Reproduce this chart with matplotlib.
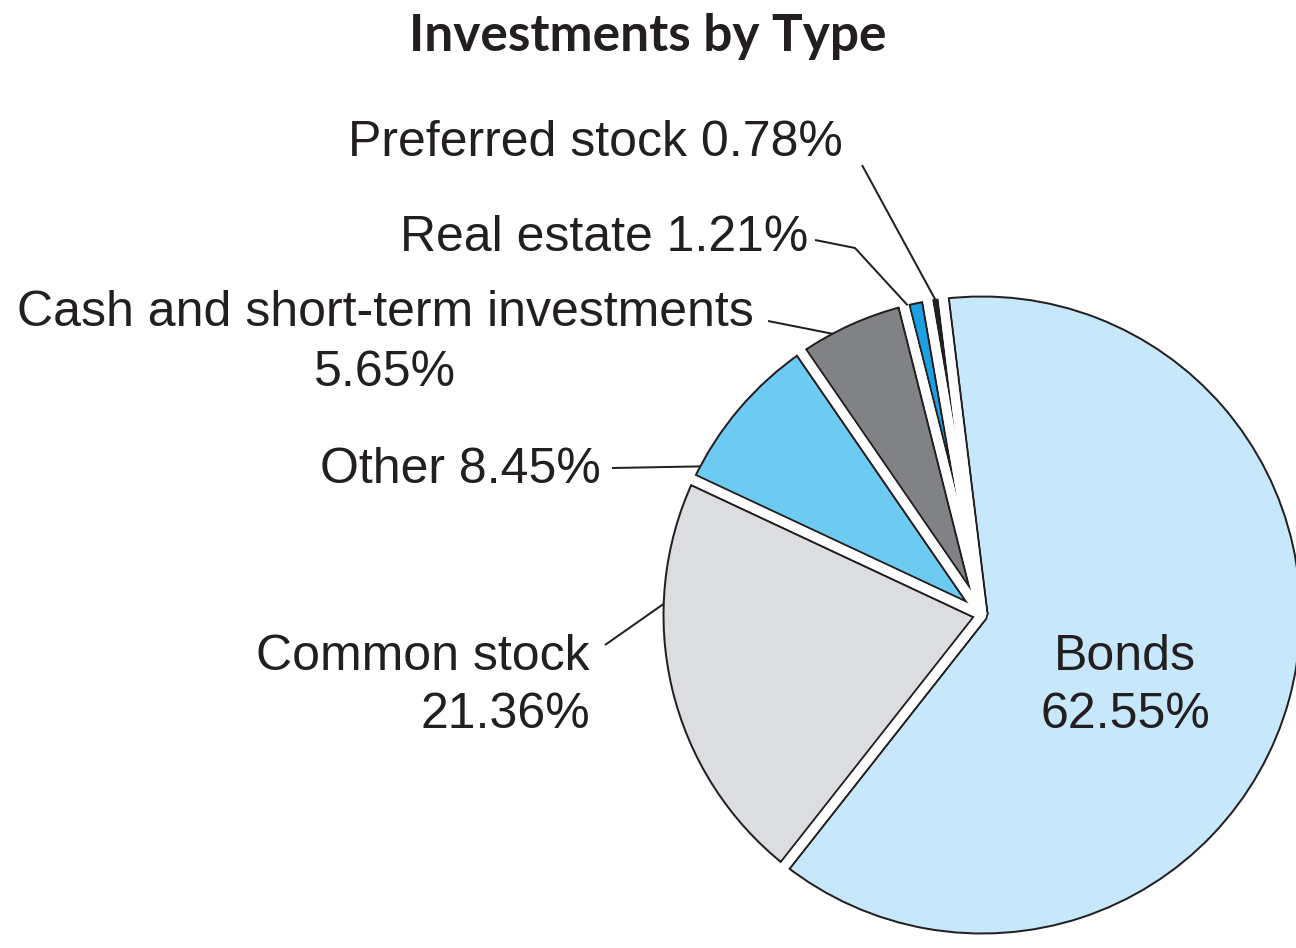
import numpy as np
import matplotlib.pyplot as plt
from matplotlib.patches import Circle

# Portfolio mix, clockwise from the top
categories = ["Bonds", "Common stock", "Other",
              "Cash and short-term investments", "Real estate", "Preferred stock"]
shares = [62.55, 21.36, 8.45, 5.65, 1.21, 0.78]
pct_labels = ["62.55%", "21.36%", "8.45%", "5.65%", "1.21%", "0.78%"]
colors = ["#c6e8fa", "#dcdde0", "#6dcbf2", "#818285", "#1ba1e2", "#231f20"]

INK = "#231f20"
W, H = 1296, 948
PT = 72 / 100          # points per pixel at dpi 100
CX, CY = 982, 333      # pie centre (pixels, y up)
R = 324                # radius of the drawn wedges
GAP = 9                # white gap between wedges, px
EDGE = 2.0             # black outline, px
R_VIS = R - GAP / 2 - EDGE / 2
explode = [0.02, 0, 0, 0, 0, 0]

fig = plt.figure(figsize=(W / 100, H / 100), dpi=100)
ax = fig.add_axes([0, 0, 1, 1])

pie_kw = dict(startangle=97, counterclock=False, center=(CX, CY), radius=R,
              explode=explode)
# thick black borders first, then white strokes on top leave thin black outlines
wedges, _ = ax.pie(shares, colors=colors,
                   wedgeprops=dict(edgecolor=INK, linewidth=(GAP + 2 * EDGE) * PT,
                                   joinstyle="bevel"),
                   **pie_kw)
ax.pie(shares, colors=colors,
       wedgeprops=dict(facecolor="none", edgecolor="white", linewidth=GAP * PT,
                       joinstyle="bevel"),
       **pie_kw)
# remove the outer half of each rim so only one line remains
for w in wedges:
    ax.add_patch(Circle(w.center, R + GAP / 2 + EDGE / 2, fill=False,
                        edgecolor="white", linewidth=(EDGE + 2) * PT))

ax.set_xlim(0, W)
ax.set_ylim(0, H)
ax.set_aspect("equal")
ax.axis("off")

font = dict(family="Liberation Sans", fontsize=36, color=INK)


def rim_point(wedge, frac):
    ang = np.deg2rad(wedge.theta1 + frac * (wedge.theta2 - wedge.theta1))
    x0, y0 = wedge.center
    return x0 + R_VIS * np.cos(ang), y0 + R_VIS * np.sin(ang)


def leader(points, wedge, frac):
    x_end, y_end = rim_point(wedge, frac)
    xs = [p[0] for p in points] + [x_end]
    ys = [p[1] for p in points] + [y_end]
    ax.plot(xs, ys, color=INK, linewidth=2.0 * PT, solid_capstyle="butt")


ax.text(648, 912, "Investments by Type", ha="center", va="center",
        family="Lato", fontweight="bold", fontsize=37, color=INK)

# Bonds label sits inside its wedge
ax.text(1125, 291, categories[0], ha="center", va="center", **font)
ax.text(1125, 233, pct_labels[0], ha="center", va="center", **font)

ax.text(590, 291, categories[1], ha="right", va="center", **font)
ax.text(590, 233, pct_labels[1], ha="right", va="center", **font)
leader([(605, 303)], wedges[1], 0.30)

ax.text(601, 478, f"{categories[2]} {pct_labels[2]}", ha="right", va="center", **font)
leader([(612, 480)], wedges[2], 0.91)

ax.text(385, 635, categories[3], ha="center", va="center", **font)
ax.text(385, 575, pct_labels[3], ha="center", va="center", **font)
leader([(768, 627)], wedges[3], 0.68)

ax.text(808, 710, f"{categories[4]} {pct_labels[4]}", ha="right", va="center", **font)
leader([(815, 708), (855, 700)], wedges[4], 0.85)

ax.text(843, 805, f"{categories[5]} {pct_labels[5]}", ha="right", va="center", **font)
leader([(862, 783)], wedges[5], 0.5)

fig.savefig("out.png", dpi=100, facecolor="white")
